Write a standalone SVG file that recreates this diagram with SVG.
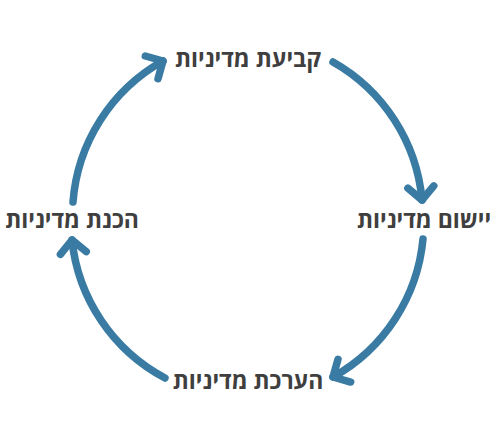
<svg xmlns="http://www.w3.org/2000/svg" width="498" height="440" viewBox="0 0 498 440">
<style>
.lbl{font-family:"Open Sans","DejaVu Sans","Liberation Sans",sans-serif;font-weight:bold;font-size:23px;fill:#3f3f3f;text-anchor:middle;direction:rtl}
.arc{fill:none;stroke:#3a7ba4;stroke-width:7.5;stroke-linecap:round;marker-end:url(#head)}
</style>
<defs>
<marker id="head" markerUnits="userSpaceOnUse" orient="auto" markerWidth="40" markerHeight="40" refX="20" refY="20" viewBox="0 0 40 40" overflow="visible">
<path d="M7,7 L20,20 L7,33" fill="none" stroke="#3a7ba4" stroke-width="7.5" stroke-linecap="round" stroke-linejoin="round"/>
</marker>
</defs>
<rect width="498" height="440" fill="#ffffff"/>
<g id="connectors">
<path class="arc" d="M333,62 A177,177 0 0 1 422,200"/>
<path class="arc" d="M423,239 A177,177 0 0 1 333,377"/>
<path class="arc" d="M165,378 A177,177 0 0 1 72,240"/>
<path class="arc" d="M73,202 A177,177 0 0 1 163,61"/>
</g>
<g id="node-top"><text class="lbl" x="248" y="67">קביעת מדיניות</text></g>
<g id="node-right"><text class="lbl" x="424" y="228">יישום מדיניות</text></g>
<g id="node-bottom"><text class="lbl" x="248" y="389">הערכת מדיניות</text></g>
<g id="node-left"><text class="lbl" x="72" y="228">הכנת מדיניות</text></g>
</svg>
